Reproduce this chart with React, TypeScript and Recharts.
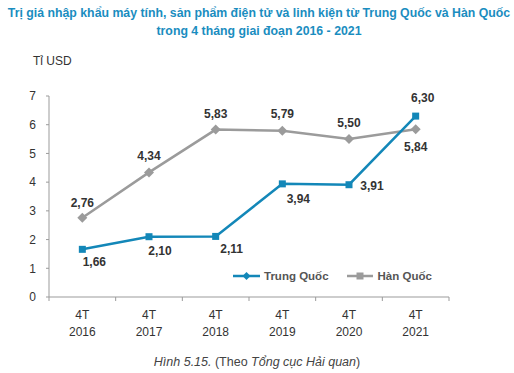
import { LineChart, Line, XAxis, YAxis } from "recharts";

// categories and values
const periods = ["2016", "2017", "2018", "2019", "2020", "2021"];
const trungQuoc = [1.66, 2.1, 2.11, 3.94, 3.91, 6.3];
const hanQuoc = [2.76, 4.34, 5.83, 5.79, 5.5, 5.84];
const yTicks = [0, 1, 2, 3, 4, 5, 6, 7];

// label placement relative to each point (dx, dy of label centre)
const tqLabelOffset = [
  [12, 13],
  [11, 14],
  [16, 13],
  [16, 15],
  [23, 1],
  [7, -18],
];
const hqLabelOffset = [
  [0, -15],
  [0, -16],
  [0, -16],
  [0, -17],
  [0, -16],
  [0, 18],
];

const BLUE = "#1387b8";
const GRAY = "#9b9b9b";
const TEXT = "#333333";
const FONT = "'Liberation Sans', Arial, sans-serif";

const W = 514;
const H = 373;
const PLOT_LEFT = 49;
const PLOT_RIGHT = 449;
const BAND = (PLOT_RIGHT - PLOT_LEFT) / periods.length;

const data = periods.map((p, i) => ({
  name: p,
  tq: trungQuoc[i],
  hq: hanQuoc[i],
}));

const fmt = (v: number) => v.toFixed(2).replace(".", ",");

const makeLabel = (offsets: number[][]) => (props: any) => {
  const { x, y, value, index } = props;
  const [dx, dy] = offsets[index] || [0, 0];
  return (
    <text
      key={`lb-${index}`}
      x={x + dx}
      y={y + dy}
      textAnchor="middle"
      dominantBaseline="central"
      fontFamily={FONT}
      fontSize={12}
      fontWeight="bold"
      fill={TEXT}
    >
      {fmt(value)}
    </text>
  );
};

const SquareDot = (props: any) => {
  const { cx, cy, index } = props;
  return <rect key={`sq-${index}`} x={cx - 3.5} y={cy - 3.5} width={7} height={7} fill={BLUE} />;
};

const DiamondDot = (props: any) => {
  const { cx, cy, index } = props;
  return (
    <path
      key={`dm-${index}`}
      d={`M${cx},${cy - 5} L${cx + 5},${cy} L${cx},${cy + 5} L${cx - 5},${cy} Z`}
      fill={GRAY}
    />
  );
};

const XTick = (props: any) => {
  const { x, y, payload, index } = props;
  const axisY = y - 8;
  return (
    <g>
      <line x1={x - BAND / 2} x2={x - BAND / 2} y1={axisY} y2={axisY + 4} stroke={GRAY} />
      {index === periods.length - 1 && (
        <line x1={x + BAND / 2} x2={x + BAND / 2} y1={axisY} y2={axisY + 4} stroke={GRAY} />
      )}
      <text x={x} textAnchor="middle" fontFamily={FONT} fontSize={12} fill={TEXT}>
        <tspan x={x} y={axisY + 22}>4T</tspan>
        <tspan x={x} y={axisY + 39}>{payload.value}</tspan>
      </text>
    </g>
  );
};

const Legend = () => (
  <div
    style={{
      position: "absolute",
      left: 233,
      top: 268,
      display: "flex",
      alignItems: "center",
      fontFamily: FONT,
      fontSize: 11.5,
      fontWeight: "bold",
      color: "#555",
    }}
  >
    <svg width={27} height={16}>
      <line x1={0} x2={27} y1={8} y2={8} stroke={BLUE} strokeWidth={2.5} />
      <path d="M13.5,4 L17.5,8 L13.5,12 L9.5,8 Z" fill={BLUE} />
    </svg>
    <span style={{ marginLeft: 4 }}>Trung Quốc</span>
    <svg width={26} height={16} style={{ marginLeft: 18 }}>
      <line x1={0} x2={26} y1={8} y2={8} stroke={GRAY} strokeWidth={2.5} />
      <rect x={9.5} y={4.5} width={7} height={7} fill={GRAY} />
    </svg>
    <span style={{ marginLeft: 5 }}>Hàn Quốc</span>
  </div>
);

export default function App() {
  return (
    <div
      style={{
        position: "absolute",
        left: 0,
        top: 0,
        width: W,
        height: H,
        background: "#fff",
        fontFamily: FONT,
        overflow: "hidden",
      }}
    >
      <div
        style={{
          position: "absolute",
          left: 2,
          top: 4,
          width: W,
          textAlign: "center",
          color: "#1a8dbf",
          fontWeight: "bold",
          fontSize: 12.3,
          lineHeight: "18px",
        }}
      >
        Trị giá nhập khẩu máy tính, sản phẩm điện tử và linh kiện từ Trung Quốc và Hàn Quốc
        <br />
        trong 4 tháng giai đoạn 2016 - 2021
      </div>
      <div style={{ position: "absolute", left: 33, top: 54, fontSize: 12, color: TEXT }}>Tỉ USD</div>

      <div style={{ position: "absolute", left: 0, top: 0 }}>
        <LineChart
          width={W}
          height={H}
          data={data}
          margin={{ top: 96, right: W - PLOT_RIGHT, bottom: 36, left: 9 }}
        >
          <XAxis
            dataKey="name"
            scale="band"
            height={40}
            stroke={GRAY}
            tickLine={false}
            tick={<XTick />}
            interval={0}
          />
          <YAxis
            width={40}
            domain={[0, 7]}
            ticks={yTicks}
            stroke={GRAY}
            tickSize={3}
            tickMargin={10}
            tick={{ fill: TEXT, fontSize: 12, fontFamily: FONT }}
          />
          <Line
            dataKey="hq"
            stroke={GRAY}
            strokeWidth={2.5}
            dot={DiamondDot}
            activeDot={false}
            label={makeLabel(hqLabelOffset)}
            isAnimationActive={false}
          />
          <Line
            dataKey="tq"
            stroke={BLUE}
            strokeWidth={2.5}
            dot={SquareDot}
            activeDot={false}
            label={makeLabel(tqLabelOffset)}
            isAnimationActive={false}
          />
        </LineChart>
      </div>

      <Legend />

      <div
        style={{
          position: "absolute",
          left: 0,
          top: 355,
          width: W,
          textAlign: "center",
          fontSize: 12.5,
          color: "#444",
        }}
      >
        <i>Hình 5.15.</i> (Theo <i>Tổng cục Hải quan</i>)
      </div>
    </div>
  );
}
